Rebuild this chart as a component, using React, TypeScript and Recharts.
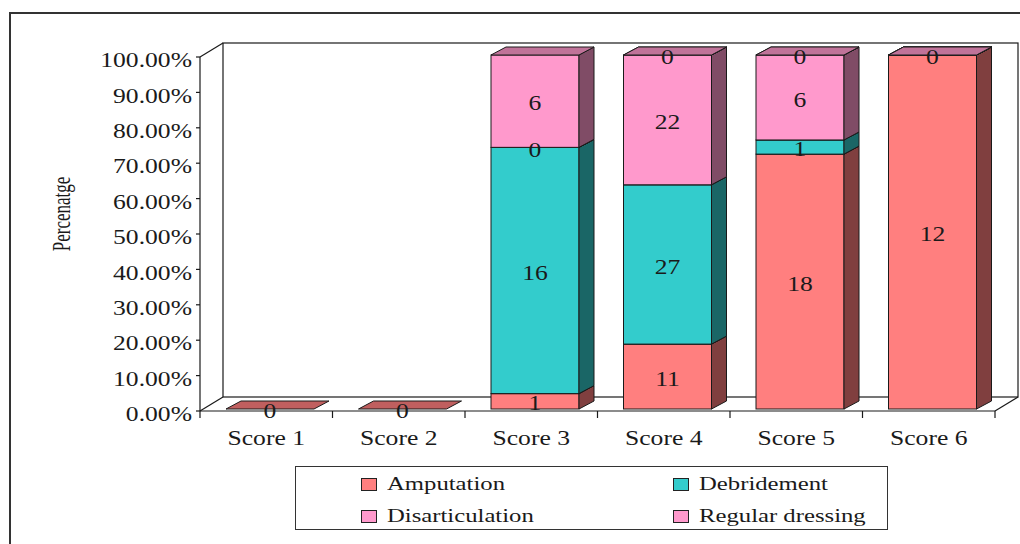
import React from "react";
import { BarChart, Bar, XAxis, YAxis, LabelList, Customized } from "recharts";

const categories = ["Score 1", "Score 2", "Score 3", "Score 4", "Score 5", "Score 6"];
const amputation = [0, 0, 1, 11, 18, 12];
const debridement = [0, 0, 16, 27, 1, 0];
const disarticulation = [0, 0, 0, 22, 6, 0];
const regularDressing = [0, 0, 6, 0, 0, 0];
const yTicks = [0, 10, 20, 30, 40, 50, 60, 70, 80, 90, 100];

const series = [
  { key: "amputation", name: "Amputation", counts: amputation, front: "#ff7f7f", side: "#803f3f", top: "#c05f5f" },
  { key: "debridement", name: "Debridement", counts: debridement, front: "#33cccc", side: "#1a6666", top: "#269999" },
  { key: "disarticulation", name: "Disarticulation", counts: disarticulation, front: "#ff99cc", side: "#804c66", top: "#c07399" },
  { key: "regular", name: "Regular dressing", counts: regularDressing, front: "#ff99cc", side: "#804c66", top: "#c07399" },
];

const rows = categories.map((name, i) => {
  const total = series.reduce((s, sr) => s + sr.counts[i], 0);
  const row: any = { name, total };
  series.forEach((sr) => {
    row[sr.key] = total ? (sr.counts[i] / total) * 100 : 0;
    row[sr.key + "N"] = sr.counts[i];
  });
  return row;
});

const W = 1020;
const H = 544;
const FONT = '"Liberation Serif", "Times New Roman", serif';
const STRETCH = 1.22;
const INK = "#1a1a1a";

// plot box
const LEFT = 200;
const RIGHT = 995;
const TOP = 57;
const BOTTOM = 411;
const WALL_DX = 23;
const WALL_DY = 14;
// bar depth and small offset of bars from the front plane
const BAR_DX = 15;
const BAR_DY = 8;
const SHIFT_X = 4;
const SHIFT_Y = -2;
const BAND = (RIGHT - LEFT) / categories.length;

const Frame3D = () => (
  <g fill="none" stroke={INK} strokeWidth={1.2}>
    <rect x={10} y={13} width={1100} height={700} stroke="#333" strokeWidth={2} />
    <rect x={LEFT + WALL_DX} y={TOP - WALL_DY} width={RIGHT - LEFT} height={BOTTOM - TOP} fill="#fff" />
    <line x1={LEFT} y1={TOP} x2={LEFT + WALL_DX} y2={TOP - WALL_DY} />
    <line x1={LEFT} y1={BOTTOM} x2={LEFT + WALL_DX} y2={BOTTOM - WALL_DY} />
    <line x1={RIGHT} y1={BOTTOM} x2={RIGHT + WALL_DX} y2={BOTTOM - WALL_DY} />
  </g>
);

const makeShape = (sr: any) => (props: any) => {
  const { x, y, width, height, payload } = props;
  if (x == null || y == null) return <g />;
  const X = x + SHIFT_X;
  const Y = y + SHIFT_Y;
  const w = width;
  const h = Math.max(0, height);
  const edge = { stroke: INK, strokeWidth: 1 };
  if (payload && payload.total === 0) {
    if (sr.key !== "amputation") return <g />;
    const B = Y + h;
    const pts = `${X},${B} ${X + w},${B} ${X + w + BAR_DX},${B - BAR_DY} ${X + BAR_DX},${B - BAR_DY}`;
    return <polygon points={pts} fill={sr.top} {...edge} />;
  }
  const side = `${X + w},${Y + h} ${X + w + BAR_DX},${Y + h - BAR_DY} ${X + w + BAR_DX},${Y - BAR_DY} ${X + w},${Y}`;
  const top = `${X},${Y} ${X + BAR_DX},${Y - BAR_DY} ${X + w + BAR_DX},${Y - BAR_DY} ${X + w},${Y}`;
  return (
    <g>
      <rect x={X} y={Y} width={w} height={h} fill={sr.front} {...edge} />
      <polygon points={side} fill={sr.side} {...edge} />
      <polygon points={top} fill={sr.top} {...edge} />
    </g>
  );
};

// zero segments stacked on the same spot: only the last one gets its "0"
const makeLabel = (si: number) => (props: any) => {
  const vb = props.viewBox || {};
  const x = props.x ?? vb.x;
  const y = props.y ?? vb.y;
  const width = props.width ?? vb.width;
  const height = props.height ?? vb.height;
  const idx = props.index;
  if (x == null || y == null) return null;
  const next = series[si + 1];
  if (next && idx != null && series[si].counts[idx] === 0 && next.counts[idx] === 0) return null;
  const cx = x + width / 2 + SHIFT_X;
  const cy = y + Math.max(0, height) / 2 + SHIFT_Y + 2;
  return (
    <g transform={`translate(${cx},${cy}) scale(${STRETCH},1)`}>
      <text x={0} y={0} textAnchor="middle" dominantBaseline="central" style={{ fontFamily: FONT }} fontSize={21} fill={INK}>
        {props.value}
      </text>
    </g>
  );
};

const YTick = (props: any) => {
  const { y, payload } = props;
  return (
    <g transform={`translate(${LEFT - 8},${y + 3}) scale(${STRETCH},1)`}>
      <text x={0} y={0} textAnchor="end" dominantBaseline="central" style={{ fontFamily: FONT }} fontSize={21} fill={INK}>
        {`${payload.value.toFixed(2)}%`}
      </text>
    </g>
  );
};

const XTick = (props: any) => {
  const { x, payload, index } = props;
  const last = index === categories.length - 1;
  return (
    <g>
      <line x1={x - BAND / 2} y1={BOTTOM} x2={x - BAND / 2} y2={BOTTOM + 7} stroke={INK} strokeWidth={1.2} />
      {last && <line x1={x + BAND / 2} y1={BOTTOM} x2={x + BAND / 2} y2={BOTTOM + 7} stroke={INK} strokeWidth={1.2} />}
      <g transform={`translate(${x},${BOTTOM + 27}) scale(${STRETCH},1)`}>
        <text x={0} y={0} textAnchor="middle" dominantBaseline="central" style={{ fontFamily: FONT }} fontSize={21} fill={INK}>
          {payload.value}
        </text>
      </g>
    </g>
  );
};

const YLabel = () => (
  <g transform={`translate(62,214) scale(1.5,1) rotate(-90)`}>
    <text x={0} y={0} textAnchor="middle" dominantBaseline="central" style={{ fontFamily: FONT }} fontSize={17} fill={INK}>
      Percenatge
    </text>
  </g>
);

const LegendBox = () => (
  <div
    style={{
      position: "absolute",
      left: 295,
      top: 466,
      width: 591,
      height: 62,
      border: "1.5px solid #333",
      background: "#fff",
      fontFamily: FONT,
      fontSize: 19,
      color: INK,
    }}
  >
    {series.map((sr, i) => {
      const col = i % 2;
      const row = Math.floor(i / 2);
      return (
        <div
          key={sr.key}
          style={{
            position: "absolute",
            left: col === 0 ? 65 : 377,
            top: row === 0 ? 7 : 39,
            height: 20,
            display: "flex",
            alignItems: "center",
            whiteSpace: "nowrap",
          }}
        >
          <span
            style={{
              display: "inline-block",
              width: 14,
              height: 11,
              background: sr.front,
              border: "1px solid #222",
              marginRight: 10,
            }}
          />
          <span style={{ display: "inline-block", transform: "scaleX(1.3)", transformOrigin: "left center" }}>
            {sr.name}
          </span>
        </div>
      );
    })}
  </div>
);

export default function App() {
  return (
    <div style={{ position: "absolute", left: 0, top: 0, width: W, height: H, background: "#fff", overflow: "hidden" }}>
      <BarChart
        width={W}
        height={H}
        data={rows}
        margin={{ top: TOP, right: W - RIGHT, bottom: H - BOTTOM - 30, left: 0 }}
        barSize={88}
      >
        <Customized component={<Frame3D />} />
        <Customized component={<YLabel />} />
        <XAxis
          dataKey="name"
          height={30}
          tickLine={false}
          axisLine={{ stroke: INK, strokeWidth: 1.2 }}
          tick={<XTick />}
          interval={0}
        />
        <YAxis
          width={LEFT}
          domain={[0, 100]}
          ticks={yTicks}
          tickSize={4}
          tickLine={{ stroke: INK, strokeWidth: 1.2 }}
          axisLine={{ stroke: INK, strokeWidth: 1.2 }}
          tick={<YTick />}
          interval={0}
        />
        {series.map((sr, si) => (
          <Bar
            key={sr.key}
            dataKey={sr.key}
            name={sr.name}
            stackId="a"
            fill={sr.front}
            shape={makeShape(sr)}
            isAnimationActive={false}
          >
            <LabelList dataKey={sr.key + "N"} content={makeLabel(si)} />
          </Bar>
        ))}
      </BarChart>
      <LegendBox />
    </div>
  );
}
